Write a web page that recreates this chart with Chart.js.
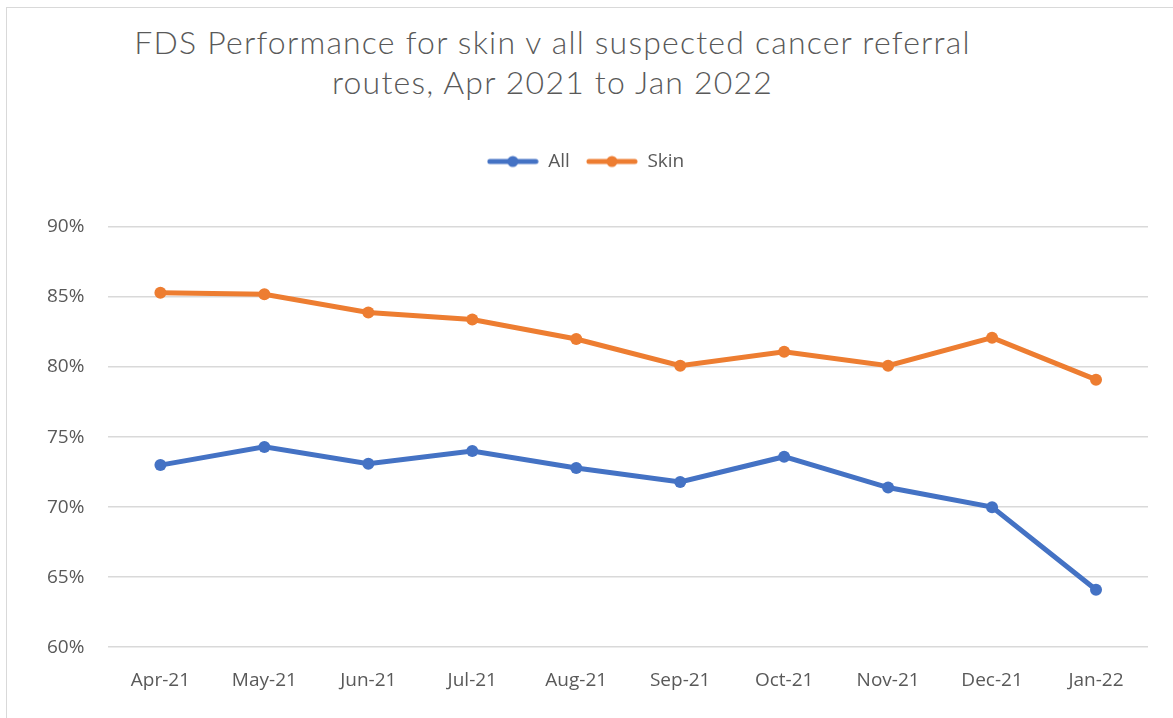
<!DOCTYPE html>
<html>
<head>
<meta charset="utf-8">
<script src="https://cdn.jsdelivr.net/npm/chart.js@4/dist/chart.umd.min.js"></script>
<style>
  html, body { margin: 0; padding: 0; background: #fff; }
  #wrap { position: relative; width: 1173px; height: 718px; overflow: hidden; }
  #frame { position: absolute; left: 6px; top: 7px; width: 1200px; height: 740px; border: 1px solid #d9d9d9; pointer-events: none; }
  #title { position: absolute; left: 0; width: 1105px; top: 22px; text-align: center;
    font-family: Lato, "Open Sans", sans-serif; font-weight: 300; font-size: 32px; letter-spacing: 1.2px;
    line-height: 40px; color: #595959; }
  canvas { position: absolute; left: 0; top: 0; }
</style>
</head>
<body>
<div id="wrap">
  <div id="frame"></div>
  <div id="title">FDS Performance for skin v all suspected cancer referral<br>routes, Apr 2021 to Jan 2022</div>
  <canvas id="lineChart" width="1173" height="718"></canvas>
</div>
<script>
// data (percent)
var months = ["Apr-21", "May-21", "Jun-21", "Jul-21", "Aug-21", "Sep-21", "Oct-21", "Nov-21", "Dec-21", "Jan-22"];
var allValues = [73.0, 74.3, 73.1, 74.0, 72.8, 71.8, 73.6, 71.4, 70.0, 64.1];
var skinValues = [85.3, 85.2, 83.9, 83.4, 82.0, 80.1, 81.1, 80.1, 82.1, 79.1];

var blue = '#4472C4';
var orange = '#ED7D31';
var grey = '#595959';
var tickFont = { family: '"Open Sans", sans-serif', size: 19 };

// legend marker: line with a dot in the middle, like Excel
function legendMark(color) {
    var c = document.createElement('canvas');
    c.width = 52;
    c.height = 14;
    var g = c.getContext('2d');
    g.strokeStyle = color;
    g.lineWidth = 5;
    g.lineCap = 'round';
    g.beginPath();
    g.moveTo(3, 7);
    g.lineTo(49, 7);
    g.stroke();
    g.fillStyle = color;
    g.beginPath();
    g.arc(26, 7, 5.5, 0, Math.PI * 2);
    g.fill();
    return c;
}

var ctx = document.getElementById("lineChart");

new Chart(ctx, {
    type: 'line',
    data: {
        labels: months,
        datasets: [{
            label: 'All',
            data: allValues,
            borderColor: blue,
            backgroundColor: blue,
            borderWidth: 5,
            pointRadius: 6,
            pointHoverRadius: 6,
            pointBackgroundColor: blue,
            pointBorderWidth: 0,
            tension: 0
        }, {
            label: 'Skin',
            data: skinValues,
            borderColor: orange,
            backgroundColor: orange,
            borderWidth: 5,
            pointRadius: 6,
            pointHoverRadius: 6,
            pointBackgroundColor: orange,
            pointBorderWidth: 0,
            tension: 0
        }]
    },
    options: {
        responsive: false,
        animation: false,
        layout: {
            padding: { left: 23, right: 25, top: 136, bottom: 12 }
        },
        plugins: {
            title: { display: false },
            // empty spacer between legend and plot area
            subtitle: {
                display: true,
                text: '',
                weight: 500,
                font: { size: 10 },
                padding: { top: 0, bottom: 34 }
            },
            tooltip: { enabled: false },
            legend: {
                display: true,
                position: 'top',
                labels: {
                    usePointStyle: true,
                    pointStyleWidth: 52,
                    boxHeight: 14,
                    padding: 16,
                    color: grey,
                    font: tickFont,
                    generateLabels: function (chart) {
                        return chart.data.datasets.map(function (ds, i) {
                            return {
                                text: ds.label,
                                fontColor: grey,
                                pointStyle: legendMark(ds.borderColor),
                                lineWidth: 0,
                                strokeStyle: 'transparent',
                                fillStyle: 'transparent',
                                datasetIndex: i
                            };
                        });
                    }
                }
            }
        },
        scales: {
            x: {
                offset: true,
                grid: { display: false },
                border: { display: false },
                ticks: {
                    color: grey,
                    padding: 14,
                    maxRotation: 0,
                    font: tickFont
                }
            },
            y: {
                min: 60,
                max: 90,
                border: { display: false },
                grid: { color: '#d9d9d9', lineWidth: 1.5, drawTicks: false },
                ticks: {
                    stepSize: 5,
                    padding: 24,
                    color: grey,
                    font: tickFont,
                    callback: function (v) { return v + '%'; }
                }
            }
        }
    }
});
</script>
</body>
</html>
